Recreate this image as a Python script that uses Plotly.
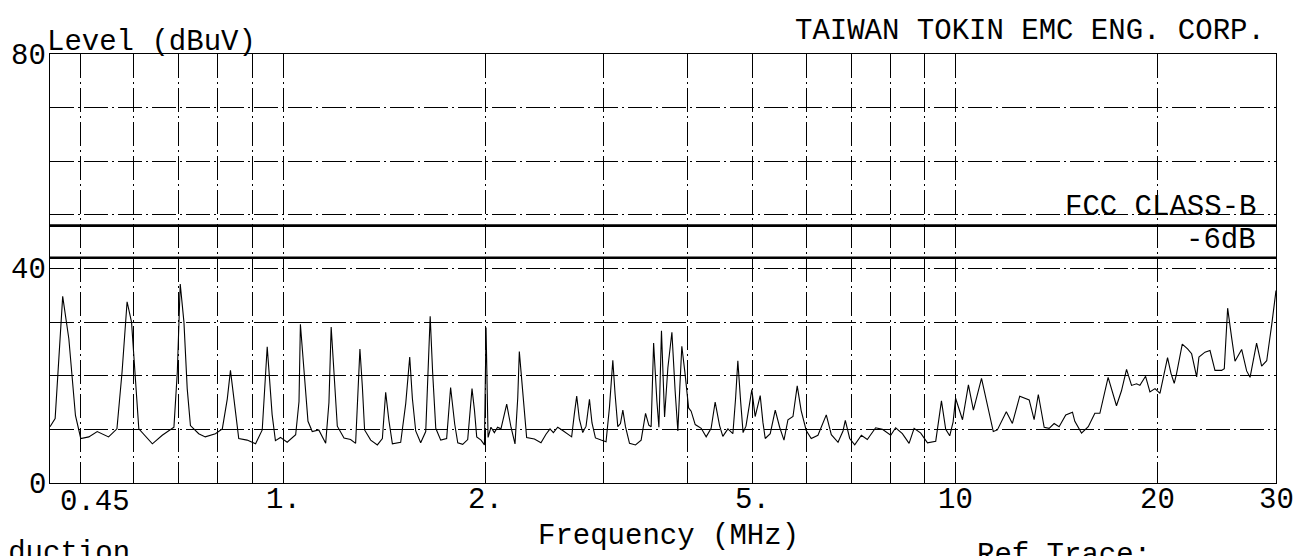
import math
import plotly.graph_objects as go

# ---------------- data ----------------
freq_mhz = [
    0.45, 0.458, 0.470, 0.480, 0.491, 0.500, 0.514, 0.529, 0.550, 0.566, 0.576, 0.586, 0.595,
    0.603, 0.610, 0.639, 0.661, 0.688, 0.696, 0.703, 0.712, 0.720, 0.728, 0.749, 0.766, 0.793,
    0.812, 0.826, 0.835, 0.845, 0.859,
    0.884, 0.910, 0.931, 0.947, 0.963, 0.974, 0.991, 1.014, 1.044, 1.056, 1.061, 1.074, 1.089,
    1.105, 1.130, 1.157, 1.170, 1.179, 1.193, 1.204, 1.232, 1.260, 1.282, 1.293, 1.301, 1.312,
    1.322, 1.350, 1.381, 1.405, 1.421, 1.437, 1.454, 1.496, 1.522, 1.543, 1.557, 1.575, 1.602,
    1.630, 1.643, 1.655, 1.669, 1.687, 1.716, 1.751, 1.775,
    1.800, 1.819, 1.850, 1.882, 1.897, 1.910, 1.926, 1.941, 1.970, 1.993, 2.004, 2.018, 2.038,
    2.062, 2.085, 2.109, 2.151, 2.183, 2.213, 2.234, 2.246, 2.264, 2.285, 2.303, 2.365, 2.419,
    2.461, 2.495, 2.524, 2.562, 2.606, 2.651, 2.687, 2.712, 2.734, 2.759, 2.791, 2.823, 2.856,
    2.881, 2.915, 2.972, 3.023, 3.059, 3.094, 3.118, 3.147, 3.176, 3.202, 3.231, 3.276, 3.344,
    3.409, 3.461, 3.500, 3.528, 3.558, 3.598, 3.623, 3.655,
    3.694, 3.736, 3.788, 3.830, 3.866, 3.892, 3.919, 3.964, 4.011, 4.046, 4.103, 4.188, 4.260,
    4.333, 4.393, 4.460, 4.510, 4.589, 4.668, 4.711, 4.748, 4.791, 4.834, 4.882, 4.981, 5.038,
    5.126, 5.174, 5.215, 5.305, 5.397, 5.479, 5.561, 5.637, 5.735, 5.819, 5.898, 6.001, 6.105,
    6.247, 6.428, 6.540, 6.692, 6.807, 6.861, 6.965, 7.086, 7.249,
    7.398, 7.612, 7.791, 8.016, 8.152, 8.342, 8.536, 8.684, 8.884, 9.091, 9.352, 9.537, 9.677,
    9.811, 9.926, 10.01, 10.15, 10.25, 10.46, 10.64, 10.94, 11.16, 11.39, 11.55, 11.91, 12.16,
    12.47, 12.88, 13.10, 13.29, 13.56, 13.79, 14.03, 14.27, 14.60, 14.94,
    15.06, 15.41, 15.77, 16.13, 16.41, 16.88, 17.37, 17.67, 17.98, 18.29, 18.61, 18.82, 19.19,
    19.48, 19.82, 20.16, 20.69, 20.94, 21.17, 21.34, 21.76, 22.16, 22.47, 22.86, 23.04, 23.52,
    23.93, 24.34, 24.90, 25.13, 25.42, 25.77, 26.07, 26.67, 27.13, 27.45, 28.07, 28.56, 29.06,
    29.56, 30.0,
]

level_dbuv = [
    10.5, 12.0, 34.8, 26.9, 12.6, 8.3, 8.6, 9.6, 8.6, 10.1, 20.7, 33.8, 30.0,
    18.8, 10.1, 7.3, 8.9, 10.4, 20.7, 37.1, 30.0, 17.6, 10.7, 9.2, 8.6, 9.2,
    10.1, 15.7, 21.0, 15.7, 8.3,
    8.0, 7.3, 9.9, 25.4, 12.8, 7.9, 8.5, 7.6, 9.0, 15.2, 29.6, 21.3, 11.5,
    9.6, 9.9, 7.4, 15.0, 29.1, 19.3, 10.6, 8.4, 8.1, 7.4, 17.9, 25.0, 17.9,
    9.9, 8.0, 7.1, 8.3, 16.9, 11.6, 7.3, 7.6, 14.8, 23.5, 15.8, 9.7, 7.5,
    9.6, 20.7, 31.1, 20.6, 10.2, 8.0, 8.3, 17.8,
    11.0, 7.5, 7.2, 8.1, 13.6, 17.6, 13.6, 8.6, 8.0, 7.1, 29.0, 8.5, 10.4,
    9.4, 10.4, 10.1, 14.7, 10.4, 7.3, 15.9, 24.5, 19.6, 12.8, 8.5, 8.2, 7.5,
    9.1, 10.1, 9.4, 10.4, 9.8, 9.2, 8.6, 12.9, 16.2, 11.9, 9.4, 10.6, 15.6,
    11.2, 8.4, 8.0, 7.7, 14.2, 22.9, 16.6, 10.5, 11.1, 13.6, 10.5, 7.4, 7.1,
    8.0, 13.0, 10.8, 10.5, 26.1, 15.3, 10.4, 28.4,
    12.3, 21.5, 28.1, 17.2, 9.7, 17.8, 25.5, 20.2, 14.0, 13.4, 10.9, 10.2, 8.6,
    10.2, 15.1, 10.7, 8.7, 10.1, 9.2, 15.7, 22.8, 15.6, 9.4, 10.6, 17.4, 12.4,
    16.3, 11.3, 8.3, 9.2, 13.6, 10.4, 8.0, 11.8, 12.4, 18.1, 13.5, 9.8, 8.3,
    8.9, 12.7, 9.0, 7.6, 9.7, 11.7, 8.3, 7.1, 8.9,
    8.1, 10.3, 10.0, 8.9, 10.3, 9.2, 7.4, 10.2, 9.3, 7.5, 7.8, 15.3, 10.0,
    8.8, 11.4, 15.8, 13.3, 11.8, 18.3, 13.6, 19.5, 14.5, 9.6, 9.9, 13.3, 11.1,
    16.2, 15.5, 11.8, 16.5, 10.4, 10.2, 11.1, 10.5, 12.7, 13.2,
    11.5, 9.3, 10.5, 13.0, 13.0, 19.7, 14.4, 17.2, 21.2, 18.2, 18.5, 18.2, 19.9,
    17.0, 17.6, 16.7, 23.4, 20.4, 18.6, 20.4, 25.9, 25.0, 24.1, 19.8, 23.5, 24.4,
    24.7, 21.0, 21.0, 21.3, 32.6, 27.1, 22.7, 24.9, 20.9, 19.7, 26.1, 21.8, 22.8,
    29.5, 35.9,
]

limit_freq = [0.45, 30.0]
fcc_class_b = [48.0, 48.0]
fcc_minus_6db = [42.0, 42.0]

x_grid_vals = [0.45, 0.5, 0.6, 0.7, 0.8, 0.9, 1, 2, 3, 4, 5, 6, 7, 8, 9, 10, 20, 30]
x_label_vals = [1, 2, 5, 10, 20, 30]
x_label_text = ["1.", "2.", "5.", "10", "20", "30"]
y_grid_vals = [0, 10, 20, 30, 40, 50, 60, 70, 80]
y_label_vals = [0, 40, 80]
y_label_text = ["0", "40", "80"]

# ---------------- figure ----------------
FONT = "Liberation Mono, Courier New, monospace"
FS = 29
GRID_DASH = "24px,4px,2px,4px"
OFF = 8  # page body margin in the browser

W, H = 1312 - OFF, 556 - OFF
ML, MR, MT, MB = 42, 36, 46, 73
PW, PH = W - ML - MR, H - MT - MB


def px(sx):
    return (sx - OFF - ML) / PW


def py(sy):
    return (H - MB - (sy - OFF)) / PH


fig = go.Figure()
fig.add_trace(go.Scatter(x=limit_freq, y=fcc_class_b, mode="lines",
                         line=dict(color="black", width=2.6), hoverinfo="skip"))
fig.add_trace(go.Scatter(x=limit_freq, y=fcc_minus_6db, mode="lines",
                         line=dict(color="black", width=2.6), hoverinfo="skip"))
fig.add_trace(go.Scatter(x=freq_mhz, y=level_dbuv, mode="lines",
                         line=dict(color="black", width=1.1)))

txt = dict(family=FONT, size=FS, color="black")
annots = [
    dict(text="Level (dBuV)", x=px(45), y=py(42), xanchor="left", yanchor="middle"),
    dict(text="TAIWAN TOKIN EMC ENG. CORP.", x=px(1267), y=py(32), xanchor="right", yanchor="middle"),
    dict(text="FCC CLASS-B", x=px(1258), y=py(208), xanchor="right", yanchor="middle"),
    dict(text="-6dB", x=px(1258), y=py(240), xanchor="right", yanchor="middle"),
    dict(text="0.45", x=px(58), y=py(502), xanchor="left", yanchor="middle"),
    dict(text="Frequency (MHz)", x=px(668), y=py(536), xanchor="center", yanchor="middle"),
    dict(text="Conduction", x=px(132), y=py(553), xanchor="right", yanchor="middle"),
    dict(text="Ref Trace:", x=px(975), y=py(555), xanchor="left", yanchor="middle"),
]
for a in annots:
    a.update(xref="paper", yref="paper", showarrow=False, font=txt)

# x tick labels (log axis: annotation x is log10 of the value)
for v, t in zip(x_label_vals, x_label_text):
    annots.append(dict(text=t, x=math.log10(v), xref="x", y=py(501), yref="paper",
                       xanchor="center", yanchor="middle", showarrow=False, font=txt))
# y tick labels
for v, t in zip(y_label_vals, y_label_text):
    annots.append(dict(text=t, x=px(48), xref="paper", y=v, yref="y", yshift=-2,
                       xanchor="right", yanchor="middle", showarrow=False, font=txt))

fig.update_layout(
    width=W, height=H,
    margin=dict(l=ML, r=MR, t=MT, b=MB, autoexpand=False),
    paper_bgcolor="white", plot_bgcolor="white",
    showlegend=False,
    annotations=annots,
    xaxis=dict(
        type="log", range=[math.log10(0.45), math.log10(30)],
        tickmode="array", tickvals=x_grid_vals, showticklabels=False,
        showgrid=True, gridcolor="black", gridwidth=1, griddash=GRID_DASH,
        showline=True, linecolor="black", linewidth=1, mirror=True,
        ticks="", zeroline=False,
    ),
    yaxis=dict(
        range=[0, 80],
        tickmode="array", tickvals=y_grid_vals, showticklabels=False,
        showgrid=True, gridcolor="black", gridwidth=1, griddash=GRID_DASH,
        showline=True, linecolor="black", linewidth=1, mirror=True,
        ticks="", zeroline=False,
    ),
)

fig.write_html("out.html")
